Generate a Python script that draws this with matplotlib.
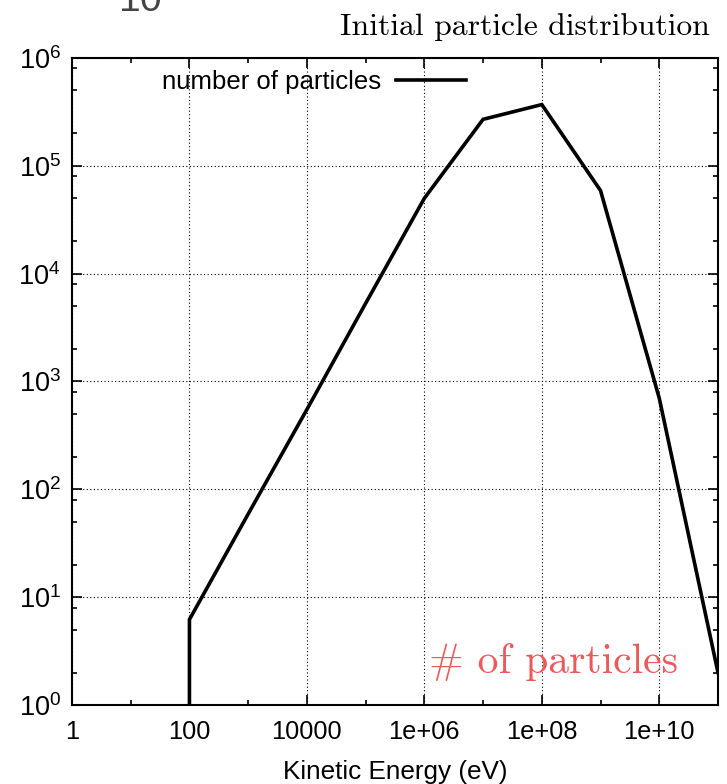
import numpy as np
import matplotlib
matplotlib.use("Agg")
import matplotlib.pyplot as plt
from matplotlib.ticker import FixedLocator, NullFormatter

plt.rcParams['font.family'] = ['Liberation Sans', 'DejaVu Sans']
plt.rcParams['mathtext.fontset'] = 'custom'
plt.rcParams['mathtext.rm'] = 'Liberation Sans'
plt.rcParams['mathtext.it'] = 'Liberation Sans'

# data
energy = [100, 100, 1e3, 1e4, 1e5, 1e6, 1e7, 1e8, 1e9, 1e10, 1e11]
particles = [0.5, 6.2, 59, 550, 5300, 5.0e4, 2.7e5, 3.7e5, 5.9e4, 700, 2.0]

x_ticks = [1, 1e2, 1e4, 1e6, 1e8, 1e10]
x_labels = ["1", "100", "10000", "1e+06", "1e+08", "1e+10"]
y_ticks = [1, 1e1, 1e2, 1e3, 1e4, 1e5, 1e6]
y_labels = [r"$10^{%d}$" % i for i in range(7)]

fig = plt.figure(figsize=(7.27, 7.84), dpi=100)
ax = fig.add_axes([0.099, 0.1008, 0.8886, 0.8252])

ax.plot(energy, particles, color='black', lw=2.6, label='number of particles',
        solid_joinstyle='miter')

ax.set_xscale('log')
ax.set_yscale('log')
ax.set_xlim(1, 1e11)
ax.set_ylim(1, 1e6)

ax.xaxis.set_major_locator(FixedLocator(x_ticks))
ax.set_xticklabels(x_labels)
ax.xaxis.set_minor_locator(FixedLocator([10, 1e3, 1e5, 1e7, 1e9, 1e11]))
ax.xaxis.set_minor_formatter(NullFormatter())

ax.yaxis.set_major_locator(FixedLocator(y_ticks))
ax.set_yticklabels(y_labels)
minors = [m * 10 ** d for d in range(6) for m in (2, 5, 8)]
ax.yaxis.set_minor_locator(FixedLocator(minors))
ax.yaxis.set_minor_formatter(NullFormatter())

ax.tick_params(which='both', direction='in', top=True, right=True, width=1.2)
ax.tick_params(which='major', length=7.5)
ax.tick_params(which='minor', length=3.6)
ax.tick_params(axis='x', pad=11, labelsize=18.3)
ax.tick_params(axis='y', pad=8, labelsize=19.5)

for s in ax.spines.values():
    s.set_linewidth(1.5)

ax.grid(True, which='major', ls=(0, (1, 2.2)), color='black', lw=0.8)

ax.set_xlabel('Kinetic Energy (eV)', fontsize=18.8, labelpad=11)

ax.legend(loc='upper right', bbox_to_anchor=(0.641, 1.013), frameon=False, markerfirst=False,
          fontsize=18.5, handlelength=2.7, borderpad=0.3, handletextpad=0.6)

fig.text(0.977, 0.955, 'Initial particle distribution', family='cmr10', fontsize=22.8,
         ha='right', va='baseline')
ax.text(0.938, 0.05, '# of particles', family='cmr10', fontsize=30, color='#eb5a5a',
        ha='right', va='baseline', transform=ax.transAxes)

# cut-off label fragment at the top edge
fig.text(0.162, 0.974, r'$10^{10}$', fontsize=28, color='#444444', ha='left', va='bottom')

fig.savefig('out.png', dpi=100)
